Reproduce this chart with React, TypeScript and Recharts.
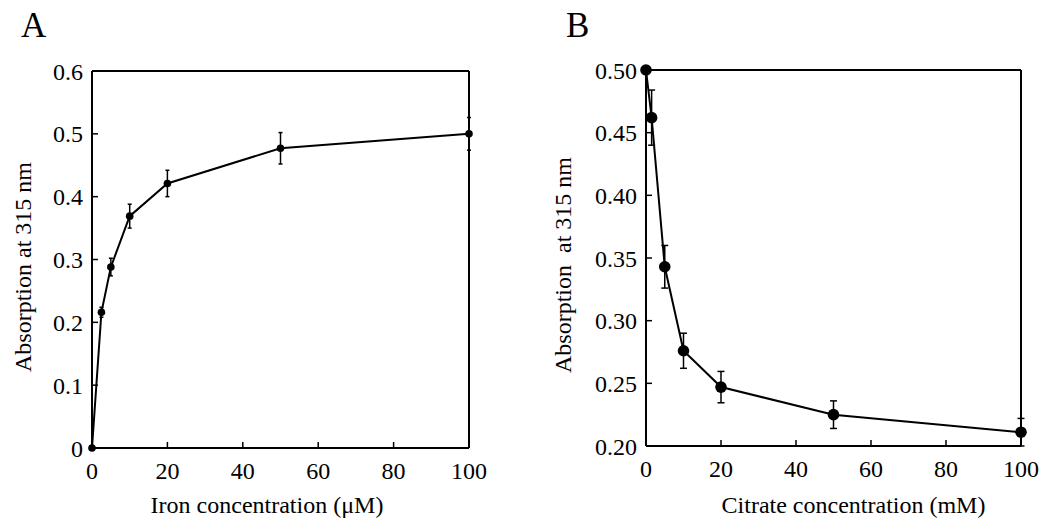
import React from 'react';
import { LineChart, Line, XAxis, YAxis, ErrorBar, Label } from 'recharts';

// Panel A: iron titration
const ironConc = [0, 2.5, 5, 10, 20, 50, 100];
const ironAbs = [0, 0.216, 0.288, 0.369, 0.421, 0.477, 0.5];
const ironErr = [0, 0.008, 0.014, 0.019, 0.021, 0.025, 0.026];

// Panel B: citrate competition
const citrateConc = [0, 1.5, 5, 10, 20, 50, 100];
const citrateAbs = [0.5, 0.462, 0.343, 0.276, 0.247, 0.225, 0.211];
const citrateErr = [0, 0.022, 0.017, 0.014, 0.0125, 0.011, 0.011];

const xTicks = [0, 20, 40, 60, 80, 100];
const ironYTicks = [0, 0.1, 0.2, 0.3, 0.4, 0.5, 0.6];
const citrateYTicks = [0.2, 0.25, 0.3, 0.35, 0.4, 0.45, 0.5];

const FONT = "'Liberation Serif', 'DejaVu Serif', 'Times New Roman', serif";

type PanelProps = {
  data: { x: number; y: number; e: number }[];
  yDomain: [number, number];
  yTicks: number[];
  yFmt: (v: number) => string;
  xTitle: string;
  yTitle: string;
  margin: { top: number; right: number; bottom: number; left: number };
  xTitleDx: number;
  xTitleDy: number;
  yTitleX: number;
  yTitleDy: number;
  dotR: number;
  capW: number;
};

function Panel(p: PanelProps) {
  const tickStyle = { fontSize: 24, fill: '#000', style: { fontFamily: FONT } };
  const axisLine = { stroke: '#000', strokeWidth: 2 };
  const tickLine = { stroke: '#000', strokeWidth: 1.5 };
  return (
    <LineChart width={520} height={528} data={p.data} margin={p.margin} style={{ fontFamily: FONT }}>
      <XAxis
        xAxisId="b"
        dataKey="x"
        type="number"
        domain={[0, 100]}
        ticks={xTicks}
        height={60}
        tickSize={-6}
        tickMargin={20}
        axisLine={axisLine}
        tickLine={tickLine}
        tick={tickStyle}
      >
        <Label
          content={(props: any) => {
            const vb = props.viewBox || {};
            const cx = vb.x + vb.width / 2 + p.xTitleDx;
            const cy = vb.y + p.xTitleDy;
            return (
              <text x={cx} y={cy} textAnchor="middle" style={{ fontFamily: FONT }} fontSize={24} fill="#000">
                {p.xTitle}
              </text>
            );
          }}
        />
      </XAxis>
      <XAxis
        xAxisId="t"
        orientation="top"
        type="number"
        domain={[0, 100]}
        ticks={xTicks}
        allowDataOverflow
        height={1}
        tickSize={-6}
        axisLine={axisLine}
        tickLine={tickLine}
        tick={false}
      />
      <YAxis
        yAxisId="l"
        type="number"
        domain={p.yDomain}
        ticks={p.yTicks}
        width={60}
        tickSize={-6}
        tickMargin={15}
        axisLine={axisLine}
        tickLine={tickLine}
        tick={tickStyle}
        tickFormatter={p.yFmt}
      >
        <Label
          content={(props: any) => {
            const vb = props.viewBox || {};
            const cx = p.yTitleX;
            const cy = vb.y + vb.height / 2 + p.yTitleDy;
            return (
              <text
                x={cx}
                y={cy}
                transform={`rotate(-90 ${cx} ${cy})`}
                textAnchor="middle"
                fontSize={24}
                fill="#000"
                style={{ whiteSpace: 'pre', fontFamily: FONT }}
              >
                {p.yTitle}
              </text>
            );
          }}
        />
      </YAxis>
      <YAxis
        yAxisId="r"
        orientation="right"
        type="number"
        domain={p.yDomain}
        ticks={p.yTicks}
        allowDataOverflow
        width={1}
        tickSize={-6}
        axisLine={axisLine}
        tickLine={tickLine}
        tick={false}
      />
      <Line
        xAxisId="b"
        yAxisId="l"
        type="linear"
        dataKey="y"
        stroke="#000"
        strokeWidth={2}
        dot={{ r: p.dotR, fill: '#000', stroke: '#000', strokeWidth: 0 }}
        activeDot={false}
        isAnimationActive={false}
      >
        <ErrorBar dataKey="e" direction="y" width={p.capW} stroke="#000" strokeWidth={1.5} />
      </Line>
    </LineChart>
  );
}

export default function App() {
  const ironData = ironConc.map((x, i) => ({ x, y: ironAbs[i], e: ironErr[i] }));
  const citrateData = citrateConc.map((x, i) => ({ x, y: citrateAbs[i], e: citrateErr[i] }));
  return (
    <div style={{ position: 'absolute', left: 0, top: 0, width: 1050, height: 528, background: '#fff', overflow: 'hidden', fontFamily: FONT }}>
      <div style={{ position: 'absolute', left: 0, top: 0 }}>
        <Panel
          data={ironData}
          yDomain={[0, 0.6]}
          yTicks={ironYTicks}
          yFmt={(v) => (v === 0 ? '0' : String(v))}
          xTitle="Iron concentration (μM)"
          yTitle="Absorption at 315 nm"
          margin={{ top: 70, right: 50, bottom: 20, left: 32 }}
          xTitleDx={-13.5}
          xTitleDy={65}
          yTitleX={31}
          yTitleDy={7.5}
          dotR={3.8}
          capW={2}
        />
      </div>
      <div style={{ position: 'absolute', left: 530, top: 0 }}>
        <Panel
          data={citrateData}
          yDomain={[0.2, 0.5]}
          yTicks={citrateYTicks}
          yFmt={(v) => v.toFixed(2)}
          xTitle="Citrate concentration (mM)"
          yTitle={'Absorption\u00a0 at 315 nm'}
          margin={{ top: 69, right: 28, bottom: 22, left: 56 }}
          xTitleDx={20}
          xTitleDy={67}
          yTitleX={41}
          yTitleDy={7}
          dotR={5.8}
          capW={3.5}
        />
      </div>
      <svg width={1050} height={528} style={{ position: 'absolute', left: 0, top: 0, pointerEvents: 'none' }}>
        <text x={21} y={37} style={{ fontFamily: FONT }} fontSize={35} fill="#000">A</text>
        <text x={566} y={37} style={{ fontFamily: FONT }} fontSize={35} fill="#000">B</text>
      </svg>
    </div>
  );
}
